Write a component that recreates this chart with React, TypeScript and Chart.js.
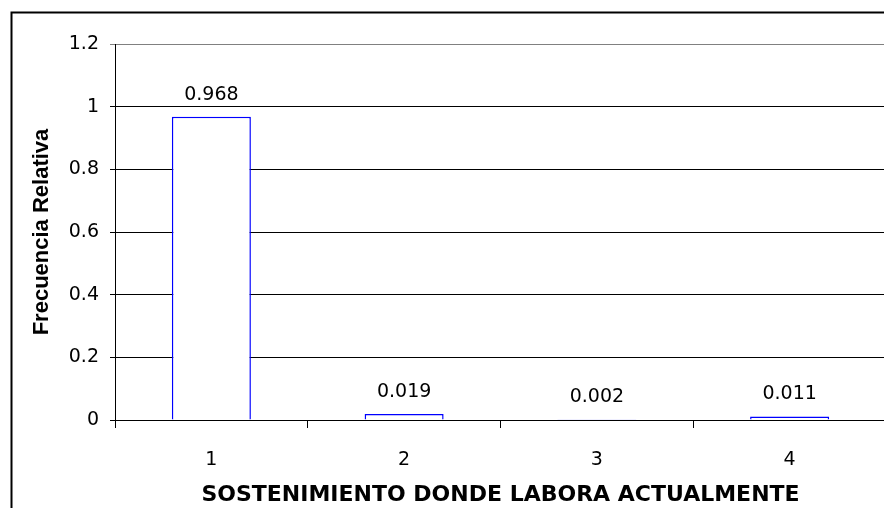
import React, { useEffect, useRef } from "react";
import { Chart, registerables } from "chart.js";

Chart.register(...registerables);

const categories = ["1", "2", "3", "4"];
const values = [0.968, 0.019, 0.002, 0.011];
const valueLabels = ["0.968", "0.019", "0.002", "0.011"];
const yTicks = [0, 0.2, 0.4, 0.6, 0.8, 1, 1.2];
const yTickLabels = ["0", "0.2", "0.4", "0.6", "0.8", "1", "1.2"];
const xTitle = "SOSTENIMIENTO DONDE LABORA ACTUALMENTE";
const yTitle = "Frecuencia Relativa";

const CANVAS_W = 1000;
const CANVAS_H = 508;

const framePlugin = {
  id: "frame",
  beforeDraw(chart: any) {
    const ctx = chart.ctx;
    ctx.save();
    ctx.fillStyle = "#ffffff";
    ctx.fillRect(0, 0, chart.width, chart.height);
    ctx.strokeStyle = "#000000";
    ctx.lineWidth = 2;
    ctx.strokeRect(11.5, 12.5, 3000, 3000);
    ctx.restore();
  },
  afterDatasetsDraw(chart: any) {
    const ctx = chart.ctx;
    const meta = chart.getDatasetMeta(0);
    ctx.save();
    ctx.fillStyle = "#000000";
    ctx.font = "19px 'DejaVu Sans'";
    ctx.textAlign = "center";
    ctx.textBaseline = "middle";
    meta.data.forEach((bar: any, i: number) => {
      ctx.fillText(valueLabels[i], bar.x, bar.y - 22);
    });
    ctx.restore();
  },
};

export default function App() {
  const ref = useRef<HTMLCanvasElement | null>(null);

  useEffect(() => {
    if (!ref.current) return;
    const chart = new Chart(ref.current, {
      type: "bar",
      data: {
        labels: categories,
        datasets: [
          {
            data: values,
            backgroundColor: "#ffffff",
            borderColor: "#0000ff",
            borderWidth: 1.5,
            barPercentage: 0.41,
            categoryPercentage: 1,
          },
        ],
      },
      plugins: [framePlugin],
      options: {
        responsive: false,
        animation: false,
        devicePixelRatio: 1,
        layout: { padding: { left: 0, top: 44, right: CANVAS_W - 886, bottom: 0 } },
        plugins: {
          legend: { display: false },
          tooltip: { enabled: false },
        },
        scales: {
          x: {
            offset: true,
            grid: {
              offset: true,
              drawOnChartArea: false,
              drawTicks: true,
              tickLength: 8,
              color: "#000000",
              lineWidth: 1,
            },
            border: { color: "#000000", width: 1 },
            ticks: {
              color: "#000000",
              font: { family: "'DejaVu Sans'", size: 19 },
              padding: 21,
              maxRotation: 0,
            },
            title: {
              display: true,
              text: xTitle,
              color: "#000000",
              font: { family: "'DejaVu Sans'", size: 22, weight: "bold" },
              padding: { top: 0, bottom: 0 },
            },
            afterFit(scale: any) {
              scale.height = CANVAS_H - 420;
            },
          },
          y: {
            min: 0,
            max: 1.2,
            grid: {
              color: (c: any) => (c.tick && c.tick.value === 1.2 ? "#808080" : "#000000"),
              lineWidth: 1,
              drawTicks: true,
              tickLength: 5,
            },
            border: { color: "#000000", width: 1 },
            afterBuildTicks(scale: any) {
              scale.ticks = yTicks.map((v) => ({ value: v }));
            },
            ticks: {
              color: "#000000",
              font: { family: "'DejaVu Sans'", size: 19 },
              padding: 11,
              callback: (_v: any, i: number) => yTickLabels[i],
            },
            title: {
              display: true,
              text: yTitle,
              color: "#000000",
              font: { family: "'Liberation Sans'", size: 22, weight: "bold" },
              padding: { top: 29, bottom: 0 },
            },
            afterFit(scale: any) {
              scale.width = 115;
            },
          },
        },
      },
    });
    return () => chart.destroy();
  }, []);

  return (
    <div
      style={{
        position: "fixed",
        left: 0,
        top: 0,
        width: 884,
        height: 508,
        overflow: "hidden",
        background: "#ffffff",
      }}
    >
      <canvas
        ref={ref}
        width={CANVAS_W}
        height={CANVAS_H}
        style={{ display: "block", width: CANVAS_W, height: CANVAS_H }}
      />
    </div>
  );
}
